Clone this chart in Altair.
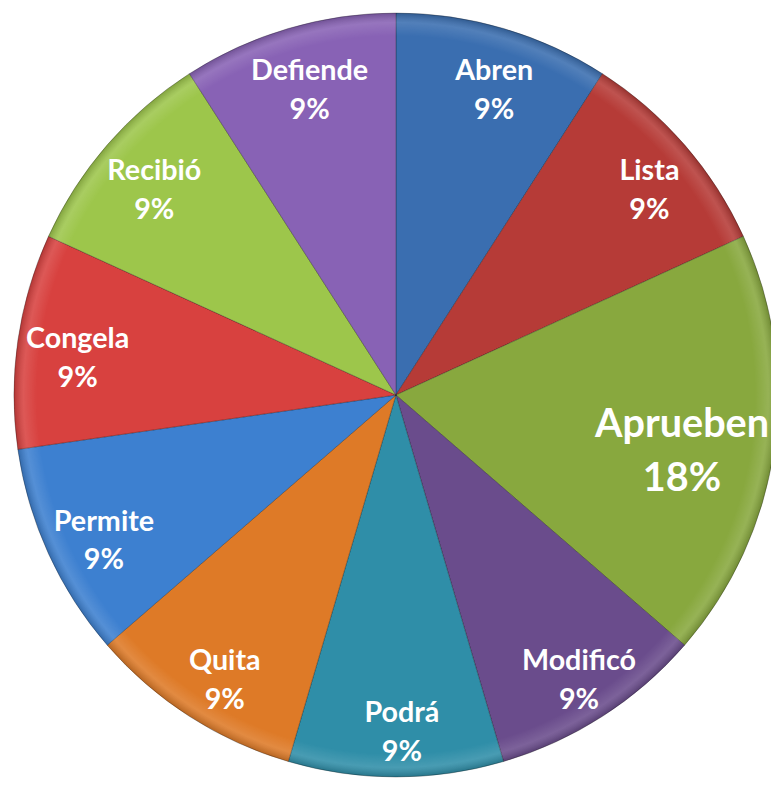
import altair as alt
import pandas as pd

categories = ["Abren", "Lista", "Aprueben", "Modificó", "Podrá",
              "Quita", "Permite", "Congela", "Recibió", "Defiende"]
values = [1, 1, 2, 1, 1, 1, 1, 1, 1, 1]
colors = ["#3A6EB0", "#B63B37", "#88A83E", "#6A4C8C", "#2F8EA8",
          "#DE7A27", "#3D80D0", "#D8413F", "#9DC64B", "#8862B5"]

total = sum(values)
df = pd.DataFrame({"cat": categories, "value": values,
                   "order": list(range(len(categories)))})

base = (
    alt.Chart(df)
    .transform_joinaggregate(total="sum(value)")
    .transform_calculate(pct="round(datum.value / datum.total * 100) + '%'")
    .transform_calculate(label="[datum.cat, datum.pct]")
    .transform_stack(stack="value", as_=["v0", "v1"], groupby=[],
                     sort=[alt.SortField("order", order="ascending")])
    .transform_calculate(mid="(datum.v0 + datum.v1) / 2")
)

cx, cy = 392, 387         # pie centre inside the view
lx, ly = cx + 6, cy + 10   # label ring centre

theta_scale = alt.Scale(domain=[0, total])

pie = base.mark_arc(radius=386, stroke="#000000", strokeOpacity=0.28,
                    strokeWidth=1).encode(
    theta=alt.Theta("v0:Q", scale=theta_scale),
    theta2="v1:Q",
    color=alt.Color("cat:N", scale=alt.Scale(domain=categories, range=colors),
                    legend=None),
    x=alt.value(cx),
    y=alt.value(cy),
)

shade = base.transform_filter("datum.order == 0").mark_arc(
    radius=386, theta=0, theta2=6.2832,
    color=alt.Gradient(
        gradient="radial", x1=0.5, y1=0.5, r1=0, x2=0.5, y2=0.5, r2=0.5,
        stops=[alt.GradientStop(offset=0, color="rgba(255,255,255,0)"),
               alt.GradientStop(offset=0.94, color="rgba(255,255,255,0)"),
               alt.GradientStop(offset=0.975, color="rgba(255,255,255,0.12)"),
               alt.GradientStop(offset=1, color="rgba(0,0,0,0.18)")]),
).encode(x=alt.value(cx), y=alt.value(cy))

small = base.transform_filter("datum.cat != 'Aprueben'").mark_text(
    radius=331, font="Lato", fontWeight="bold", fontSize=29, lineHeight=39,
    dy=-19.5, color="white", align="center", baseline="middle").encode(
    theta=alt.Theta("mid:Q", scale=theta_scale),
    text="label:N",
    x=alt.value(lx),
    y=alt.value(ly),
)

big = base.transform_filter("datum.cat == 'Aprueben'").mark_text(
    radius=286, font="Lato", fontWeight="bold", fontSize=40, lineHeight=54,
    dy=-20, color="white", align="center", baseline="middle").encode(
    theta=alt.Theta("mid:Q", scale=theta_scale),
    text="label:N",
    x=alt.value(lx),
    y=alt.value(ly),
)

chart = alt.layer(pie, shade, small, big).properties(
    width=771, height=778,
    autosize=alt.AutoSizeParams(type="none"),
    padding=0,
).configure_view(stroke=None)

chart.save("out.html", embed_options={"renderer": "svg", "actions": False})
